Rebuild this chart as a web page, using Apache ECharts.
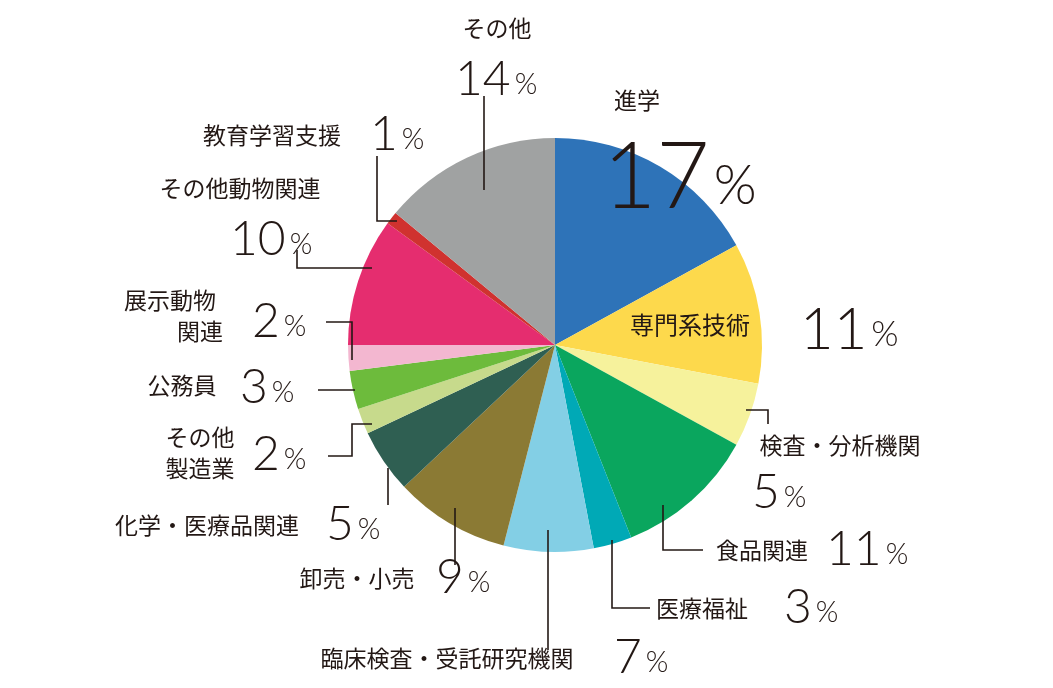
<!DOCTYPE html>
<html><head><meta charset="utf-8">
<script src="https://cdn.jsdelivr.net/npm/echarts@6/dist/echarts.min.js"></script>
<style>html,body{margin:0;background:#fff}#c{width:1053px;height:688px}</style>
</head><body><div id="c"></div>
<script>
const categories=['進学','専門系技術','検査・分析機関','食品関連','医療福祉','臨床検査・受託研究機関','卸売・小売','化学・医療品関連','その他製造業','公務員','展示動物関連','その他動物関連','教育学習支援','その他'];
const values=[17,11,5,11,3,7,9,5,2,3,2,10,1,14];
const colors=['#2e73b8','#fdd94c','#f6f29c','#0aa65e','#00a9b6','#83cfe5','#8b7a34','#2f5f52','#c7da8c','#6dbb3c','#f3b7d0','#e52d6f','#d0322f','#a0a2a2'];
const JP='"Noto Sans CJK JP"', NUM='Lato, "Noto Sans", sans-serif';
const C='#231815';
function t(x,y,s,size,align){return {type:'text',x:x,y:y,z:100,style:{text:s,fontSize:size,fontFamily:JP,fill:C,align:align||'center',verticalAlign:'middle'}};}
function n(x,y,num,size){return {type:'text',x:x,y:y,z:100,style:{text:'{a|'+num+'}{b|%}',align:'left',verticalAlign:'middle',rich:{a:{fontSize:size,fontFamily:NUM,fontWeight:300,fill:C},b:{fontSize:Math.round(size*0.6),fontFamily:NUM,fontWeight:300,fill:C,padding:[Math.round(size*0.18),0,0,4]}}}};}
function l(pts){return {type:'polyline',z:100,shape:{points:pts},style:{stroke:C,lineWidth:1.6,fill:null}};}
const g=[
 t(497,28,'その他',23), n(455,80,values[13],48), l([[484,96],[484,190]]),
 t(637,100,'進学',23), n(603,178,values[0],92),
 t(690,325,'専門系技術',24), n(800,330,values[1],58),
 l([[746,410],[768,410],[768,424]]), t(840,445,'検査・分析機関',23), n(752,493,values[2],48),
 l([[663,505],[663,550],[703,550]]), t(762,550,'食品関連',23), n(826,550,values[3],48),
 l([[612,540],[612,608],[650,608]]), t(702,608,'医療福祉',23), n(784,608,values[4],48),
 l([[548,530],[548,650]]), t(447,658,'臨床検査・受託研究機関',23), n(614,658,values[5],48),
 l([[455,508],[455,565]]), t(357,578,'卸売・小売',23), n(436,578,values[6],48),
 l([[388,468],[388,505]]), t(207,525,'化学・医療品関連',23), n(326,525,values[7],48),
 l([[372,424],[352,424],[352,456],[328,456]]), t(200,437,'その他',23), t(200,468,'製造業',23), n(252,455,values[8],48),
 l([[355,390],[318,390]]), t(182,385,'公務員',23), n(240,388,values[9],48),
 l([[352,360],[352,322],[326,322]]), t(170,300,'展示動物',23), t(200,331,'関連',23), n(252,322,values[10],48),
 l([[372,268],[297,268],[297,250]]), t(240,188,'その他動物関連',23), n(230,240,values[11],48),
 l([[397,221],[377,221],[377,156]]), t(272,135,'教育学習支援',23), n(370,135,values[12],48)
];
const chart=echarts.init(document.getElementById('c'));
chart.setOption({animation:false,color:colors,
 series:[{type:'pie',center:[555,345],radius:[0,207],startAngle:90,clockwise:true,label:{show:false},labelLine:{show:false},itemStyle:{borderWidth:0},
 data:categories.map((c,i)=>({name:c,value:values[i]}))}],
 graphic:g});
</script></body></html>
